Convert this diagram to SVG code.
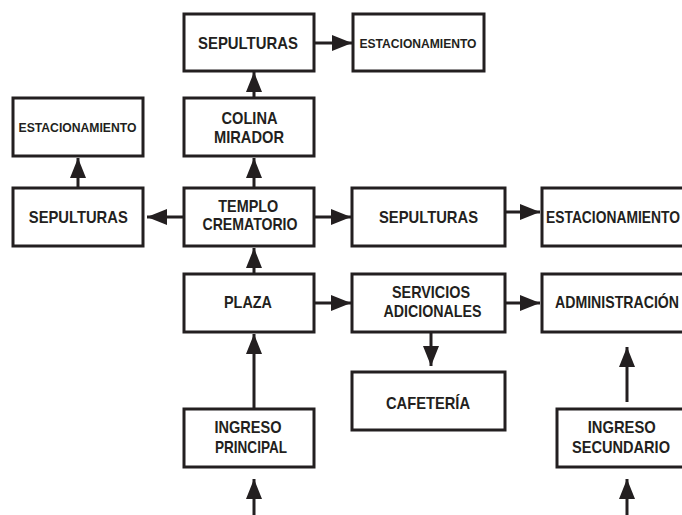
<svg xmlns="http://www.w3.org/2000/svg" width="682" height="515" viewBox="0 0 682 515">
<style>
.b{fill:#fff;stroke:#231f20;stroke-width:3}
.t{font-family:"Liberation Sans",Arial,sans-serif;font-weight:bold;font-size:17px;fill:#231f20;text-anchor:middle}
.s{font-size:12.5px}
.l{text-anchor:start}
.c{stroke:#231f20;stroke-width:3;fill:none;marker-end:url(#ah)}
</style>
<defs>
<marker id="ah" markerUnits="userSpaceOnUse" markerWidth="20" markerHeight="16" refX="20" refY="8" orient="auto" viewBox="0 0 20 16">
<path d="M0,0 L20,8 L0,16 z" fill="#231f20"/>
</marker>
</defs>
<rect width="682" height="515" fill="#fff"/>
<g id="connectors">
<line class="c" x1="314" y1="43" x2="352" y2="43"/>
<line class="c" x1="254" y1="98" x2="254" y2="72"/>
<line class="c" x1="254" y1="188" x2="254" y2="158"/>
<line class="c" x1="184" y1="217" x2="147" y2="217"/>
<line class="c" x1="78" y1="188" x2="78" y2="158"/>
<line class="c" x1="314" y1="217" x2="351" y2="217"/>
<line class="c" x1="505" y1="212" x2="540" y2="212"/>
<line class="c" x1="254" y1="274" x2="254" y2="248"/>
<line class="c" x1="314" y1="303" x2="351" y2="303"/>
<line class="c" x1="505" y1="303" x2="540" y2="303"/>
<line class="c" x1="431" y1="332" x2="431" y2="366"/>
<line class="c" x1="254" y1="409" x2="254" y2="334"/>
<line class="c" x1="254" y1="515" x2="254" y2="479"/>
<line class="c" x1="627" y1="402" x2="627" y2="347"/>
<line class="c" x1="627" y1="515" x2="627" y2="479"/>
</g>
<g id="sepulturas-top"><rect class="b" x="184" y="14" width="130" height="57"/><text class="t" x="248" y="49" textLength="100" lengthAdjust="spacingAndGlyphs">SEPULTURAS</text></g>
<g id="estacionamiento-top"><rect class="b" x="353" y="14" width="131" height="57"/><text class="t s" x="418" y="48" textLength="117" lengthAdjust="spacingAndGlyphs">ESTACIONAMIENTO</text></g>
<g id="colina-mirador"><rect class="b" x="184" y="98" width="130" height="58"/><text class="t" x="249.5" y="123.5" textLength="56" lengthAdjust="spacingAndGlyphs">COLINA</text><text class="t" x="249" y="143" textLength="70" lengthAdjust="spacingAndGlyphs">MIRADOR</text></g>
<g id="estacionamiento-left"><rect class="b" x="13" y="98" width="130" height="58"/><text class="t s" x="77.5" y="131.5" textLength="118" lengthAdjust="spacingAndGlyphs">ESTACIONAMIENTO</text></g>
<g id="sepulturas-left"><rect class="b" x="13" y="188" width="130" height="58"/><text class="t" x="78.3" y="222.7" textLength="99" lengthAdjust="spacingAndGlyphs">SEPULTURAS</text></g>
<g id="templo-crematorio"><rect class="b" x="184" y="188" width="130" height="58"/><text class="t" x="248.3" y="211.7" textLength="60" lengthAdjust="spacingAndGlyphs">TEMPLO</text><text class="t" x="250" y="230" textLength="95" lengthAdjust="spacingAndGlyphs">CREMATORIO</text></g>
<g id="sepulturas-mid"><rect class="b" x="352" y="188" width="153" height="58"/><text class="t" x="428.5" y="223.3" textLength="99" lengthAdjust="spacingAndGlyphs">SEPULTURAS</text></g>
<g id="estacionamiento-right"><rect class="b" x="542" y="188" width="160" height="58"/><text class="t l" x="546" y="223.3" textLength="134" lengthAdjust="spacingAndGlyphs">ESTACIONAMIENTO</text></g>
<g id="plaza"><rect class="b" x="184" y="274" width="130" height="58"/><text class="t" x="248" y="308.3" textLength="48" lengthAdjust="spacingAndGlyphs">PLAZA</text></g>
<g id="servicios-adicionales"><rect class="b" x="352" y="274" width="153" height="58"/><text class="t" x="431" y="298.3" textLength="78" lengthAdjust="spacingAndGlyphs">SERVICIOS</text><text class="t" x="432.5" y="317.3" textLength="98" lengthAdjust="spacingAndGlyphs">ADICIONALES</text></g>
<g id="administracion"><rect class="b" x="542" y="274" width="160" height="58"/><text class="t l" x="555" y="308.3" textLength="124" lengthAdjust="spacingAndGlyphs">ADMINISTRACIÓN</text></g>
<g id="cafeteria"><rect class="b" x="352" y="372" width="153" height="58"/><text class="t" x="428" y="409" textLength="84" lengthAdjust="spacingAndGlyphs">CAFETERÍA</text></g>
<g id="ingreso-principal"><rect class="b" x="184" y="409" width="130" height="58"/><text class="t" x="248" y="433.3" textLength="67" lengthAdjust="spacingAndGlyphs">INGRESO</text><text class="t" x="251" y="453.3" textLength="72" lengthAdjust="spacingAndGlyphs">PRINCIPAL</text></g>
<g id="ingreso-secundario"><rect class="b" x="557" y="409" width="140" height="58"/><text class="t" x="621.7" y="433.3" textLength="68" lengthAdjust="spacingAndGlyphs">INGRESO</text><text class="t" x="621" y="453.3" textLength="98" lengthAdjust="spacingAndGlyphs">SECUNDARIO</text></g>
</svg>
